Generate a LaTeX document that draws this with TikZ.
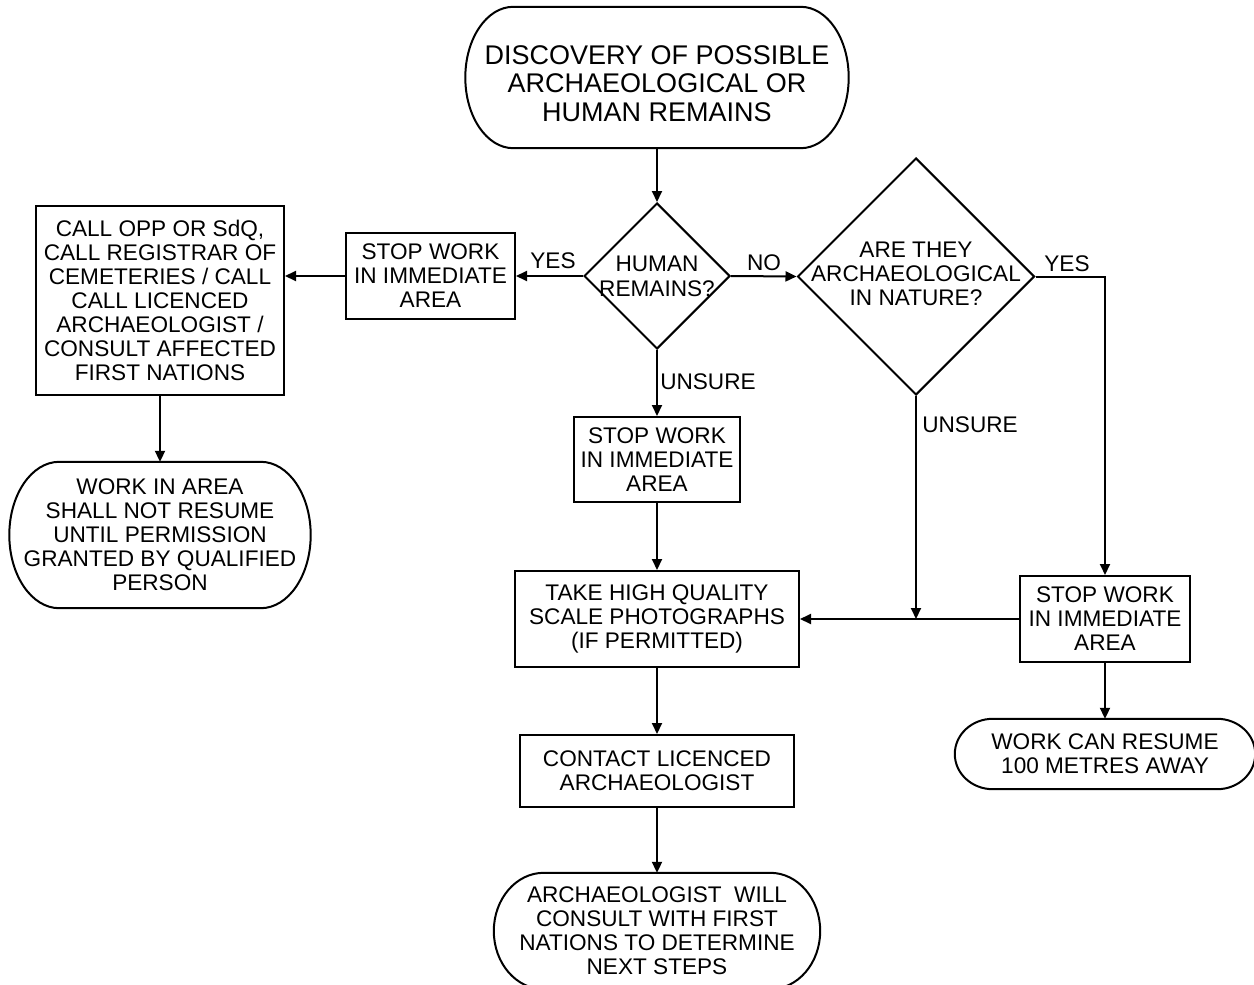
\documentclass[tikz,border=0pt]{standalone}
\usepackage{fontspec}
\setmainfont{Liberation Sans}
\usetikzlibrary{arrows.meta,shapes.geometric,calc}
\newcommand\termoutline[2]{%
  \draw[line width=2pt] let \p1=(#1.north east), \p2=(#1.south west), \n1={(\y1-\y2)/2} in
   (\x1-#2pt,\y1) -- (\x2+#2pt,\y1)
   arc[start angle=90,end angle=270,x radius=#2pt,y radius=\n1]
   -- (\x1-#2pt,\y2)
   arc[start angle=-90,end angle=90,x radius=#2pt,y radius=\n1] -- cycle;}
\begin{document}
\begin{tikzpicture}[x=1pt,y=-1pt,
  every node/.style={font=\fontsize{22.6}{24}\selectfont, align=center, inner sep=0pt},
  rbox/.style={draw, rectangle, line width=2pt},
  dbox/.style={draw, diamond, aspect=1, line width=2pt, miter limit=10},
  term/.style={rectangle},
  lbl/.style={},
  arr/.style={line width=2pt, -{Triangle[length=11pt,width=10pt]}}]
\useasboundingbox (0,0) rectangle (1254,985);

% terminators
\node[term, minimum width=383pt, minimum height=141pt] (start) at (657,77.5) {};
\node[font=\fontsize{27}{28.3}\selectfont] (startt) at (657,83.5)
  {DISCOVERY OF POSSIBLE\\ARCHAEOLOGICAL OR\\HUMAN REMAINS};
\node[term, minimum width=301pt, minimum height=146pt] (lterm) at (160,535)
  {WORK IN AREA\\SHALL NOT RESUME\\UNTIL PERMISSION\\GRANTED BY QUALIFIED\\PERSON};
\node[term, minimum width=300pt, minimum height=70pt] (rterm) at (1105,754)
  {WORK CAN RESUME\\100 METRES AWAY};
\node[term, minimum width=326pt, minimum height=116pt] (eterm) at (657,931)
  {ARCHAEOLOGIST\ \ WILL\\CONSULT WITH FIRST\\NATIONS TO DETERMINE\\NEXT STEPS};
\termoutline{start}{48}
\termoutline{lterm}{50}
\termoutline{rterm}{38}
\termoutline{eterm}{50}

% decisions
\node[dbox, minimum width=146pt, minimum height=146pt] (d1) at (657,276) {};
\node[font=\fontsize{22.6}{25}\selectfont] (d1t) at (657,276) {HUMAN\\REMAINS?};
\node[dbox, minimum width=237pt, minimum height=237pt] (d2) at (916,276.5) {};
\node (d2t) at (916,274) {ARE THEY\\ARCHAEOLOGICAL\\IN NATURE?};

% boxes
\node[rbox, minimum width=169pt, minimum height=86pt] (lstop) at (430.5,276)
  {STOP WORK\\IN IMMEDIATE\\AREA};
\node[rbox, minimum width=248pt, minimum height=189pt] (big) at (160,300.5)
  {CALL OPP OR SdQ,\\CALL REGISTRAR OF\\CEMETERIES / CALL\\CALL LICENCED\\ARCHAEOLOGIST /\\CONSULT AFFECTED\\FIRST NATIONS};
\node[rbox, minimum width=166pt, minimum height=85pt] (mstop) at (657,459.5)
  {STOP WORK\\IN IMMEDIATE\\AREA};
\node[rbox, minimum width=284pt, minimum height=96pt] (photo) at (657,619)
  {TAKE HIGH QUALITY\\SCALE PHOTOGRAPHS\\(IF PERMITTED)};
\node[rbox, minimum width=170pt, minimum height=86pt] (rstop) at (1105,619)
  {STOP WORK\\IN IMMEDIATE\\AREA};
\node[rbox, minimum width=274pt, minimum height=72pt] (contact) at (657,771)
  {CONTACT LICENCED\\ARCHAEOLOGIST};

% labels
\node[lbl] (yes1) at (553,261) {YES};
\node[lbl] (no1) at (764,263) {NO};
\node[lbl] (yes2) at (1067,264) {YES};
\node[lbl] (uns1) at (708,382) {UNSURE};
\node[lbl] (uns2) at (970,425) {UNSURE};

% connectors
\draw[arr] (start.south) -- (d1.north);
\draw[arr] (d1.west) -- (lstop.east);
\draw[arr] (lstop.west) -- (lstop.west -| big.east);
\draw[arr] (big.south) -- (lterm.north);
\draw[arr] (d1.east) -- (d2.west);
\draw[arr] (d1.south) -- (mstop.north);
\draw[arr] (mstop.south) -- (photo.north);
\draw[arr] (photo.south) -- (contact.north);
\draw[arr] (contact.south) -- (eterm.north);
\coordinate (rturn) at (d2.east -| rstop.north);
\draw[arr] (d2.east) -- (rturn) -- (rstop.north);
\draw[arr] (d2.south) -- (d2.south |- photo.east);
\draw[arr] (rstop.west) -- (photo.east);
\draw[arr] (rstop.south) -- (rterm.north);
\end{tikzpicture}
\end{document}
